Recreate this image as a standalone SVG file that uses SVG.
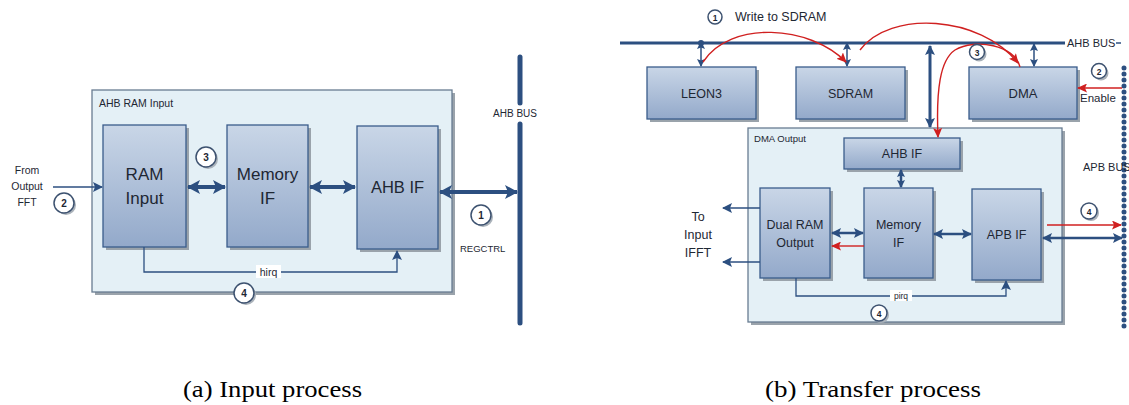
<svg xmlns="http://www.w3.org/2000/svg" width="1129" height="405" viewBox="0 0 1129 405">
<defs>
<linearGradient id="bg" x1="0" y1="0" x2="0" y2="1">
<stop offset="0" stop-color="#c9d6e7"/>
<stop offset="1" stop-color="#93a9ca"/>
</linearGradient>
<marker id="big" markerUnits="userSpaceOnUse" markerWidth="13" markerHeight="14" refX="12" refY="7" orient="auto-start-reverse"><path d="M0,0 L13,7 L0,14 L3,7 z" fill="#2c4f80"/></marker>
<marker id="med" markerUnits="userSpaceOnUse" markerWidth="10" markerHeight="10" refX="9" refY="5" orient="auto-start-reverse"><path d="M0,0 L10,5 L0,10 L2,5 z" fill="#2c4f80"/></marker>
<marker id="sm" markerUnits="userSpaceOnUse" markerWidth="8" markerHeight="8" refX="7" refY="4" orient="auto-start-reverse"><path d="M0,0 L8,4 L0,8 L1.5,4 z" fill="#2c4f80"/></marker>
<marker id="red" markerUnits="userSpaceOnUse" markerWidth="10" markerHeight="9" refX="9" refY="4.5" orient="auto-start-reverse"><path d="M0,0 L10,4.5 L0,9 L2,4.5 z" fill="#d02020"/></marker>
<style>
.cont{fill:#e4f0f6;stroke:#687c91;stroke-width:1.3}
.shd{fill:#9aa3ab}
.box{fill:url(#bg);stroke:#3a5c8b;stroke-width:1.3}
.bt{font-family:"Liberation Sans",Arial,sans-serif;fill:#1e2733;text-anchor:middle}
.lbl{font-family:"Liberation Sans",Arial,sans-serif;fill:#1e2733}
.cir{fill:#ffffff;stroke:#3d5270;stroke-width:1.5}
.cn{font-family:"Liberation Sans",Arial,sans-serif;fill:#1e2733;text-anchor:middle;font-weight:bold}
.ln{stroke:#2c4f80;fill:none}
.rl{stroke:#d02020;fill:none;stroke-width:1.4}
.cap{font-family:"Liberation Serif","Times New Roman",serif;font-size:24px;fill:#000}
</style>
</defs>

<!-- ===== Panel (a) ===== -->
<g id="container-a">
<rect class="shd" x="95" y="93" width="360" height="202"/>
<rect class="cont" x="92" y="90" width="360" height="202"/>
<text class="lbl" x="99" y="107" font-size="10.5">AHB RAM Input</text>
</g>
<g id="ram-input">
<rect class="shd" x="106" y="128" width="83" height="122"/>
<rect class="box" x="103" y="125" width="83" height="122"/>
<text class="bt" x="144.5" y="180" font-size="17">RAM</text>
<text class="bt" x="144.5" y="204" font-size="17">Input</text>
</g>
<g id="memory-if-a">
<rect class="shd" x="230" y="128" width="81" height="122"/>
<rect class="box" x="227" y="125" width="81" height="122"/>
<text class="bt" x="267.5" y="180" font-size="17">Memory</text>
<text class="bt" x="267.5" y="204" font-size="17">IF</text>
</g>
<g id="ahb-if-a">
<rect class="shd" x="360" y="129" width="81" height="123"/>
<rect class="box" x="357" y="126" width="81" height="123"/>
<text class="bt" x="397.5" y="193" font-size="16.5">AHB IF</text>
</g>
<g id="ahb-bus-a">
<line x1="520" y1="57" x2="520" y2="103" stroke="#2c4f80" stroke-width="5" stroke-linecap="round"/>
<line x1="520" y1="124" x2="520" y2="323" stroke="#2c4f80" stroke-width="5" stroke-linecap="round"/>
<text class="bt" x="515" y="117" font-size="10">AHB BUS</text>
</g>
<g id="labels-a">
<text class="bt" x="27" y="174" font-size="10.5" fill="#1c2b45">From</text>
<text class="bt" x="27" y="190" font-size="10.5" fill="#1c2b45">Output</text>
<text class="bt" x="27" y="206" font-size="10.5" fill="#1c2b45">FFT</text>
<text class="lbl" x="460" y="252" font-size="9.5">REGCTRL</text>
</g>

<g id="connectors-a">
<line class="ln" x1="53" y1="187" x2="102" y2="187" stroke-width="1.5" marker-end="url(#med)"/>
<line class="ln" x1="188" y1="187" x2="225" y2="187" stroke-width="4" marker-start="url(#big)" marker-end="url(#big)"/>
<line class="ln" x1="310" y1="187" x2="355" y2="187" stroke-width="4" marker-start="url(#big)" marker-end="url(#big)"/>
<line class="ln" x1="440" y1="192" x2="517" y2="192" stroke-width="4" marker-start="url(#big)" marker-end="url(#big)"/>
<polyline class="ln" points="144,247 144,272 397,272 397,251" stroke-width="1.3" marker-end="url(#med)"/>
<rect x="256" y="265" width="25" height="13" fill="#ffffff"/>
<text class="lbl" x="268.5" y="276" font-size="10.5" text-anchor="middle">hirq</text>
</g>

<g id="badges-a">
<circle cx="66" cy="205" r="10" fill="#aab2ba"/>
<circle class="cir" cx="64" cy="203" r="10"/><text class="cn" x="64" y="207" font-size="10">2</text>
<circle cx="208" cy="159" r="10" fill="#aab2ba"/>
<circle class="cir" cx="206" cy="157" r="10"/><text class="cn" x="206" y="161" font-size="10">3</text>
<circle cx="483" cy="217" r="10" fill="#aab2ba"/>
<circle class="cir" cx="481" cy="215" r="10"/><text class="cn" x="481" y="219" font-size="10">1</text>
<circle cx="246" cy="295" r="10" fill="#aab2ba"/>
<circle class="cir" cx="244" cy="293" r="10"/><text class="cn" x="244" y="297" font-size="10">4</text>
</g>

<!-- ===== Panel (b) ===== -->
<g id="ahb-bus-b">
<line x1="620" y1="43" x2="1065" y2="43" stroke="#2c4f80" stroke-width="3"/>
<line x1="1116" y1="43" x2="1121" y2="43" stroke="#2c4f80" stroke-width="1.5"/>
<text class="lbl" x="1067" y="47" font-size="11">AHB BUS</text>
</g>
<g id="apb-bus">
<line x1="1124" y1="68" x2="1124" y2="332" stroke="#2c4f80" stroke-width="5" stroke-dasharray="0 6" stroke-linecap="round"/>
<text class="lbl" x="1083" y="171" font-size="11">APB BUS</text>
</g>
<g id="leon3">
<rect class="shd" x="650" y="70" width="109" height="52"/>
<rect class="box" x="647" y="67" width="109" height="52"/>
<text class="bt" x="701.5" y="98" font-size="12.5">LEON3</text>
</g>
<g id="sdram">
<rect class="shd" x="799" y="70" width="109" height="52"/>
<rect class="box" x="796" y="67" width="109" height="52"/>
<text class="bt" x="850.5" y="98" font-size="12.5">SDRAM</text>
</g>
<g id="dma">
<rect class="shd" x="972" y="70" width="108" height="52"/>
<rect class="box" x="969" y="67" width="108" height="52"/>
<text class="bt" x="1023" y="98" font-size="13">DMA</text>
</g>
<g id="container-b">
<rect class="shd" x="751" y="131" width="314" height="194"/>
<rect class="cont" x="748" y="128" width="314" height="194"/>
<text class="lbl" x="754" y="142" font-size="9" textLength="52" lengthAdjust="spacingAndGlyphs">DMA Output</text>
</g>
<g id="ahb-if-b">
<rect class="shd" x="847" y="141" width="116" height="31"/>
<rect class="box" x="844" y="138" width="116" height="31"/>
<text class="bt" x="902" y="158" font-size="12.5">AHB IF</text>
</g>
<g id="dual-ram">
<rect class="shd" x="763" y="191" width="70" height="90"/>
<rect class="box" x="760" y="188" width="70" height="90"/>
<text class="bt" x="795" y="229" font-size="12.5">Dual RAM</text>
<text class="bt" x="795" y="247" font-size="12.5">Output</text>
</g>
<g id="memory-if-b">
<rect class="shd" x="867" y="191" width="69" height="90"/>
<rect class="box" x="864" y="188" width="69" height="90"/>
<text class="bt" x="898.5" y="229" font-size="12.5">Memory</text>
<text class="bt" x="898.5" y="247" font-size="12.5">IF</text>
</g>
<g id="apb-if">
<rect class="shd" x="975" y="192" width="69" height="91"/>
<rect class="box" x="972" y="189" width="69" height="91"/>
<text class="bt" x="1006.5" y="239" font-size="12.5">APB IF</text>
</g>
<g id="labels-b">
<text class="lbl" x="735" y="21" font-size="12.5">Write to SDRAM</text>
<text class="lbl" x="1080" y="102" font-size="11.5">Enable</text>
<text class="bt" x="698" y="221" font-size="12.5">To</text>
<text class="bt" x="698" y="239" font-size="12.5">Input</text>
<text class="bt" x="698" y="257" font-size="12.5">IFFT</text>
</g>

<g id="connectors-b">
<line class="ln" x1="701" y1="42" x2="701" y2="66" stroke-width="1.5" marker-start="url(#sm)" marker-end="url(#sm)"/>
<circle cx="701" cy="43" r="3" fill="#2c4f80"/>
<line class="ln" x1="847" y1="43" x2="847" y2="66" stroke-width="1.5" marker-start="url(#sm)" marker-end="url(#sm)"/>
<line class="ln" x1="1034" y1="44" x2="1034" y2="66" stroke-width="1.5" marker-start="url(#sm)" marker-end="url(#sm)"/>
<line class="ln" x1="930" y1="46" x2="930" y2="127" stroke-width="3" marker-start="url(#med)" marker-end="url(#med)"/>
<line class="ln" x1="901" y1="170" x2="901" y2="187" stroke-width="2.5" marker-start="url(#sm)" marker-end="url(#sm)"/>
<line class="ln" x1="832" y1="233" x2="863" y2="233" stroke-width="2.5" marker-start="url(#med)" marker-end="url(#med)"/>
<line class="ln" x1="934" y1="234" x2="971" y2="234" stroke-width="2.5" marker-start="url(#med)" marker-end="url(#med)"/>
<line class="ln" x1="1043" y1="238" x2="1122" y2="238" stroke-width="2.5" marker-start="url(#med)" marker-end="url(#med)"/>
<line class="ln" x1="760" y1="208" x2="723" y2="208" stroke-width="1.5" marker-end="url(#med)"/>
<line class="ln" x1="760" y1="262" x2="723" y2="262" stroke-width="1.5" marker-end="url(#med)"/>
<polyline class="ln" points="796,278 796,296 1006,296 1006,281" stroke-width="1.3" marker-end="url(#med)"/>
<rect x="890" y="290" width="22" height="11" fill="#ffffff"/>
<text class="lbl" x="901" y="299" font-size="8.5" text-anchor="middle" fill="#7a5530">pirq</text>
<line class="rl" x1="864" y1="246" x2="832" y2="246" stroke-width="1.6" marker-end="url(#red)"/>
<line class="rl" x1="1047" y1="225" x2="1121" y2="225" marker-end="url(#red)"/>
<line class="rl" x1="1122" y1="88" x2="1078" y2="88" stroke-width="1.6" marker-end="url(#red)"/>
<path class="rl" d="M703,62 C730,20 810,25 846,62" marker-end="url(#red)"/>
<path class="rl" d="M860,50 C890,10 980,15 1018,63" marker-end="url(#red)"/>
<path class="rl" d="M1020,67 C1015,45 975,38 955,50 C940,60 936,90 938,137" marker-end="url(#red)"/>
</g>

<g id="badges-b">
<circle class="cir" cx="715" cy="17" r="7" stroke-width="1.2"/><text class="cn" x="715" y="20.5" font-size="8.5" font-weight="normal">1</text>
<circle cx="979" cy="54" r="7.5" fill="#aab2ba"/>
<circle class="cir" cx="977" cy="52" r="7.5" stroke-width="1.2"/><text class="cn" x="977" y="55.5" font-size="8.5">3</text>
<circle cx="1101" cy="73" r="7.5" fill="#aab2ba"/>
<circle class="cir" cx="1099" cy="71" r="7.5" stroke-width="1.2"/><text class="cn" x="1099" y="74.5" font-size="8.5">2</text>
<circle cx="1091" cy="213" r="8" fill="#aab2ba"/>
<circle class="cir" cx="1089" cy="211" r="8" stroke-width="1.2"/><text class="cn" x="1089" y="214.5" font-size="8.5">4</text>
<circle cx="881" cy="315" r="8" fill="#aab2ba"/>
<circle class="cir" cx="879" cy="313" r="8" stroke-width="1.2"/><text class="cn" x="879" y="316.5" font-size="8.5">4</text>
</g>

<g id="captions">
<text class="cap" x="183" y="397" textLength="179" lengthAdjust="spacingAndGlyphs">(a) Input process</text>
<text class="cap" x="765" y="397" textLength="216" lengthAdjust="spacingAndGlyphs">(b) Transfer process</text>
</g>
</svg>
